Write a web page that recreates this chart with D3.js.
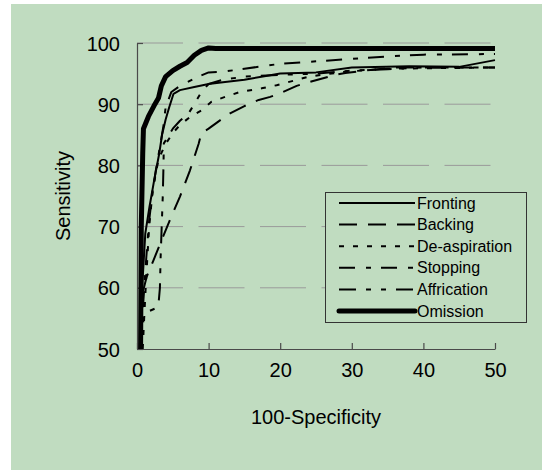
<!DOCTYPE html>
<html>
<head>
<meta charset="utf-8">
<script src="https://cdn.jsdelivr.net/npm/d3@7"></script>
<style>
  html, body { margin: 0; padding: 0; background: #fff; }
  svg { display: block; font-family: "Liberation Sans", Arial, sans-serif; }
</style>
</head>
<body>
<div id="chart"></div>
<script>
// ROC curves, x = 100-specificity, y = sensitivity
const seriesNames = ["Fronting", "Backing", "De-aspiration", "Stopping", "Affrication", "Omission"];

const fronting = [[0.5,50],[0.7,59.7],[1.16,68.9],[1.74,73.2],[2.4,77.6],[3.1,81.9],[3.5,85],[4,87.5],[4.5,89.5],[5.1,91.7],[6,92.3],[8,92.8],[10,93.3],[12,93.6],[15,94],[18,94.6],[20,95],[25,95.2],[30,96],[38,96.2],[45,96.1],[50,97.2]];
const backing = [[0.5,50],[0.6,55],[0.88,59.6],[1.35,61.8],[2.3,64.5],[3.45,67.8],[4.6,71.1],[6,74.9],[7.4,79.2],[8.6,83.5],[9,85.3],[10,86],[11.4,87.2],[13,88.5],[15,89.7],[17,90.7],[18.6,91.2],[20,91.8],[22.3,93],[24,93.6],[27.7,94.8],[29.1,95.1],[32.6,95.6],[36,96],[40,96],[50,96]];
const deaspiration = [[0.8,50],[1,55],[1.3,62],[1.7,70],[2.2,76],[3,81],[4,83.5],[5,85.3],[6,86.6],[7.5,88],[9,89],[10.4,90.4],[12.3,91.2],[14.4,92],[17.4,92.6],[19.5,93.1],[24,94.5],[29,95.3],[35,95.8],[50,96]];
const stopping = [[0.5,50],[0.9,58],[1.3,65],[1.7,71],[2.1,75],[2.6,79],[3.2,83],[3.7,86.5],[4,89.5],[4.8,92],[6,93],[8,94.2],[10,95.2],[12,95.3],[15,95.8],[20,96.6],[25,97],[30,97.4],[35,97.8],[40,98.1],[50,98.2]];
const affrication = [[0.4,50],[0.8,54],[1.1,55.9],[2.5,56.6],[3,57.3],[3.2,60],[3.3,65],[3.45,70],[3.6,75],[3.7,80],[3.75,83.6],[5,86],[6,87.3],[7.2,88.5],[8,90],[9,92],[10,93.3],[12,94],[15,94.5],[20,94.8],[25,95],[30,95.5],[35,95.7],[40,96],[45,96],[50,96]];
const omission = [[0.5,50],[0.6,70],[0.8,82],[0.9,86],[1.6,88],[2.5,90],[3,91],[3.4,93],[4,94.5],[5,95.5],[6,96.2],[7,96.8],[8,98],[9,98.8],[10,99.2],[11,99.1],[50,99.1]];

const xTicks = [0, 10, 20, 30, 40, 50];
const yTicks = [50, 60, 70, 80, 90, 100];

const series = [
  { name: seriesNames[0], values: fronting,     dash: null,              width: 2 },
  { name: seriesNames[1], values: backing,      dash: "18,11",           width: 2 },
  { name: seriesNames[2], values: deaspiration, dash: "5,9",             width: 2 },
  { name: seriesNames[3], values: stopping,     dash: "16,11,5,10",      width: 2 },
  { name: seriesNames[4], values: affrication,  dash: "17,10,5,10,5,10", width: 2 },
  { name: seriesNames[5], values: omission,     dash: null,              width: 5 }
];

const width = 542, height = 470;
const margin = { left: 137, right: 47, top: 43, bottom: 121 };

const svg = d3.select("#chart")
  .append("svg")
  .attr("width", width)
  .attr("height", height);

// green panel
svg.append("rect")
  .attr("x", 11).attr("y", 4)
  .attr("width", width - 11).attr("height", height - 4)
  .attr("fill", "#c0dcc0");

const x = d3.scaleLinear().domain([0, 50]).range([margin.left, width - margin.right]);
const y = d3.scaleLinear().domain([50, 100]).range([height - margin.bottom, margin.top]);

// gridlines
svg.append("g")
  .selectAll("line")
  .data(yTicks.filter((d) => d > 50))
  .join("line")
  .attr("x1", x(0)).attr("x2", x(50))
  .attr("y1", (d) => y(d)).attr("y2", (d) => y(d))
  .attr("stroke", "#9a9a9a")
  .attr("stroke-width", 1)
  .attr("stroke-dasharray", "46,15.5");

// axes
const xAxis = svg.append("g")
  .attr("transform", `translate(0,${y(50)})`)
  .call(d3.axisBottom(x).tickValues(xTicks).tickSizeInner(-6).tickSizeOuter(0).tickPadding(14));
const yAxis = svg.append("g")
  .attr("transform", `translate(${x(0)},0)`)
  .call(d3.axisLeft(y).tickValues(yTicks).tickSizeInner(-6).tickSizeOuter(0).tickPadding(17));

[xAxis, yAxis].forEach((g) => {
  g.select(".domain").attr("stroke", "#4a4a4a").attr("stroke-width", 1.2);
  g.selectAll(".tick line").attr("stroke", "#4a4a4a").attr("stroke-width", 1.2);
  g.selectAll(".tick text")
    .attr("fill", "#000")
    .style("font-size", "20px")
    .style("font-family", "'Liberation Sans', Arial, sans-serif");
});
xAxis.selectAll(".tick text").attr("dy", "0.71em");
yAxis.selectAll(".tick text").attr("dy", "0.35em");

// axis titles
svg.append("text")
  .attr("x", 316).attr("y", 424)
  .attr("text-anchor", "middle")
  .style("font-size", "20px")
  .text("100-Specificity");
svg.append("text")
  .attr("transform", "translate(70,196) rotate(-90)")
  .attr("text-anchor", "middle")
  .style("font-size", "20px")
  .text("Sensitivity");

// curves
const line = d3.line()
  .x((d) => x(d[0]))
  .y((d) => y(d[1]));

svg.append("g")
  .attr("fill", "none")
  .selectAll("path")
  .data(series)
  .join("path")
  .attr("d", (d) => line(d.values))
  .attr("stroke", "#000")
  .attr("stroke-width", (d) => d.width)
  .attr("stroke-dasharray", (d) => d.dash)
  .attr("stroke-linejoin", "round");

// legend
const legend = svg.append("g");
legend.append("rect")
  .attr("x", 325.5).attr("y", 192.5)
  .attr("width", 201).attr("height", 130)
  .attr("fill", "#c0dcc0")
  .attr("stroke", "#333")
  .attr("stroke-width", 1);

const row = legend.selectAll("g.row")
  .data(series)
  .join("g")
  .attr("class", "row")
  .attr("transform", (d, i) => `translate(0,${203 + i * 21.6})`);

row.append("line")
  .attr("x1", 339).attr("x2", 415)
  .attr("stroke", "#000")
  .attr("stroke-width", (d) => d.width)
  .attr("stroke-linecap", (d) => (d.width > 3 ? "round" : "butt"))
  .attr("stroke-dasharray", (d) => d.dash);

row.append("text")
  .attr("x", 417)
  .attr("dy", "0.35em")
  .style("font-size", "16px")
  .text((d) => d.name);
</script>
</body>
</html>
